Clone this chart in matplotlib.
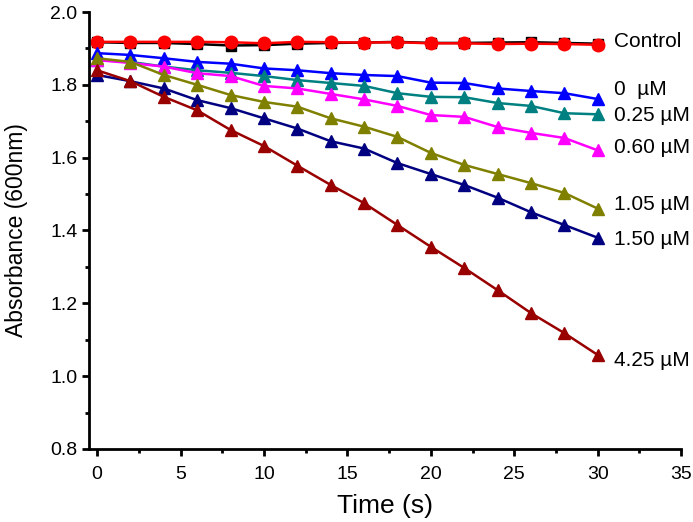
import matplotlib
matplotlib.use("Agg")
import matplotlib.pyplot as plt
from matplotlib.ticker import MultipleLocator, FormatStrFormatter

plt.rcParams['font.family'] = ['Liberation Sans', 'DejaVu Sans']

time = [0, 2, 4, 6, 8, 10, 12, 14, 16, 18, 20, 22, 24, 26, 28, 30]

control_black = [1.917, 1.915, 1.915, 1.912, 1.908, 1.909, 1.913, 1.915, 1.916, 1.918, 1.915, 1.915, 1.916, 1.917, 1.915, 1.913]
control_red = [1.918, 1.918, 1.918, 1.918, 1.917, 1.914, 1.918, 1.917, 1.916, 1.917, 1.914, 1.914, 1.912, 1.913, 1.912, 1.910]
c0 = [1.887, 1.882, 1.873, 1.863, 1.858, 1.845, 1.840, 1.832, 1.827, 1.824, 1.806, 1.805, 1.790, 1.783, 1.777, 1.761]
c025 = [1.868, 1.863, 1.850, 1.840, 1.833, 1.824, 1.813, 1.805, 1.797, 1.777, 1.767, 1.766, 1.750, 1.742, 1.722, 1.719]
c060 = [1.868, 1.860, 1.850, 1.832, 1.824, 1.797, 1.790, 1.775, 1.760, 1.742, 1.717, 1.712, 1.684, 1.668, 1.654, 1.620]
c105 = [1.873, 1.863, 1.827, 1.800, 1.772, 1.753, 1.740, 1.708, 1.685, 1.657, 1.613, 1.580, 1.555, 1.530, 1.503, 1.460]
c150 = [1.827, 1.810, 1.790, 1.758, 1.736, 1.708, 1.680, 1.645, 1.625, 1.585, 1.555, 1.525, 1.490, 1.450, 1.415, 1.380]
c425 = [1.840, 1.810, 1.767, 1.730, 1.676, 1.632, 1.578, 1.525, 1.475, 1.415, 1.355, 1.297, 1.236, 1.173, 1.118, 1.058]

labels = ["Control", "0  µM", "0.25 µM", "0.60 µM", "1.05 µM", "1.50 µM", "4.25 µM"]
label_y = [1.918, 1.786, 1.717, 1.629, 1.470, 1.374, 1.044]

fig = plt.figure(figsize=(6.93, 5.22), dpi=100)
ax = fig.add_axes([0.128, 0.14, 0.855, 0.837])

ax.plot(time, control_black, color='black', marker='s', ms=7, lw=1.8)
ax.plot(time, control_red, color='#FF0000', marker='o', ms=9, lw=1.8)
series = [(c0, '#0000FF'), (c025, '#008080'), (c060, '#FF00FF'),
          (c105, '#808000'), (c150, '#000080'), (c425, '#990000')]
for vals, col in series:
    ax.plot(time, vals, color=col, marker='^', ms=8.5, lw=1.8)

for lab, yy in zip(labels, label_y):
    ax.text(31.0, yy, lab, fontsize=15, va='center', ha='left')

ax.set_xlim(-0.5, 35)
ax.set_ylim(0.8, 2.0)
ax.xaxis.set_major_locator(MultipleLocator(5))
ax.xaxis.set_minor_locator(MultipleLocator(2.5))
ax.yaxis.set_major_locator(MultipleLocator(0.2))
ax.yaxis.set_minor_locator(MultipleLocator(0.1))
ax.yaxis.set_major_formatter(FormatStrFormatter('%.1f'))

for s in ['top', 'right']:
    ax.spines[s].set_visible(False)
for s in ['left', 'bottom']:
    ax.spines[s].set_linewidth(2)
ax.tick_params(which='major', direction='out', length=5, width=2, labelsize=14)
ax.tick_params(which='minor', direction='out', length=3, width=2)
ax.tick_params(axis='x', which='major', pad=7.5)
ax.tick_params(axis='y', which='major', pad=3)

ax.set_xlabel("Time (s)", fontsize=19, labelpad=8)
ax.set_ylabel("Absorbance (600nm)", fontsize=16.5)
ax.yaxis.set_label_coords(-0.103, 0.5)

fig.savefig("out.png", dpi=100)
